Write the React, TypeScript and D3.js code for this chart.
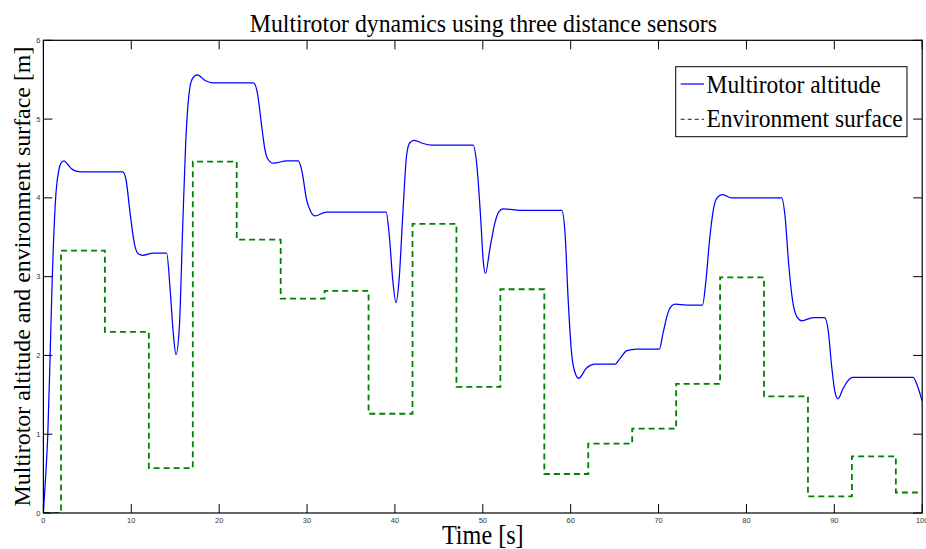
import React from "react";
import * as d3 from "d3";

const altTime = [0,0.25,0.5,0.75,1.0,1.13,1.43,1.75,2.0,2.34,2.8,3.2,3.7,4.36,9.02,9.4,9.86,10.43,10.8,11.3,12.5,14.03,14.4,14.78,15.09,15.47,15.85,16.19,16.68,17.0,17.52,18.4,19.3,23.9,24.35,24.85,25.2,25.5,26.17,27.7,29.0,29.4,29.96,30.4,30.9,32.2,39.0,39.37,39.75,40.13,40.5,40.9,41.35,41.7,42.2,43.2,44.2,48.9,49.3,49.77,50.05,50.3,50.8,51.37,51.8,52.3,53.5,54.6,58.98,59.36,59.7,60.1,60.5,60.9,61.8,62.8,65.05,65.6,66.4,67.5,70.1,70.5,71.1,71.5,71.9,73.2,75.0,75.4,75.8,76.24,76.6,77.3,78.3,79.3,84.0,84.4,84.8,85.3,85.8,86.3,87.6,88.9,89.3,89.7,90.05,90.4,91.0,91.5,92.1,93.7,98.96,99.5,100];
const altValue = [0,0.45,1.0,1.94,2.95,3.38,4.06,4.35,4.44,4.47,4.42,4.37,4.34,4.33,4.33,4.23,3.81,3.38,3.29,3.27,3.30,3.30,2.87,2.28,2.01,2.36,3.63,4.69,5.41,5.52,5.56,5.49,5.46,5.46,5.33,4.90,4.62,4.50,4.44,4.47,4.47,4.35,3.97,3.83,3.77,3.82,3.82,3.51,2.96,2.67,3.0,3.80,4.56,4.70,4.73,4.69,4.67,4.67,4.44,3.72,3.20,3.04,3.35,3.68,3.82,3.86,3.85,3.84,3.84,3.55,2.74,2.03,1.78,1.71,1.84,1.89,1.89,1.96,2.06,2.08,2.08,2.28,2.55,2.63,2.65,2.64,2.64,2.96,3.46,3.85,3.99,4.04,4.00,4.00,4.00,3.76,3.17,2.66,2.48,2.44,2.48,2.48,2.32,1.86,1.55,1.45,1.58,1.67,1.72,1.72,1.72,1.60,1.42];

const surfTime = [0,2,7,12,17,22,27,32,37,42,47,52,57,62,67,72,77,82,87,92,97,100];
const surfValue = [0,3.33,2.30,0.57,4.46,3.47,2.72,2.82,1.26,3.67,1.60,2.84,0.495,0.88,1.07,1.64,2.99,1.48,0.21,0.72,0.26,0.26];

const xTicks = [0,10,20,30,40,50,60,70,80,90,100];
const yTicks = [0,1,2,3,4,5,6];

const title = "Multirotor dynamics using three distance sensors";
const xLabel = "Time [s]";
const yLabel = "Multirotor altitude and environment surface [m]";
const legendLabels = ["Multirotor altitude", "Environment surface"];

export default function App() {
  const W = 926, H = 549;
  const left = 43.4, right = 922.2, top = 40.3, bottom = 513;
  const x = d3.scaleLinear().domain([0, 100]).range([left, right]);
  const y = d3.scaleLinear().domain([0, 6]).range([bottom, top]);

  const altPts: [number, number][] = altTime.map((t, i) => [t, altValue[i]]);
  const surfPts: [number, number][] = surfTime.map((t, i) => [t, surfValue[i]]);

  const altLine = d3.line<[number, number]>().x(d => x(d[0])).y(d => y(d[1])).curve(d3.curveMonotoneX);
  const surfLine = d3.line<[number, number]>().x(d => x(d[0])).y(d => y(d[1])).curve(d3.curveStepAfter);

  const serif = "'Liberation Serif', 'Times New Roman', serif";
  const sans = "'Liberation Sans', Arial, sans-serif";
  const tickLen = 9;
  const cx = (left + right) / 2;

  return (
    <svg width={W} height={H} style={{ position: "absolute", left: 0, top: 0, background: "#fff" }}>
      <rect x={0} y={0} width={W} height={H} fill="#fff" />
      <defs>
        <clipPath id="plotclip">
          <rect x={left} y={top} width={right - left} height={bottom - top} />
        </clipPath>
      </defs>
      <g clipPath="url(#plotclip)">
        <path d={surfLine(surfPts) || ""} fill="none" stroke="#008000" strokeWidth={1.8} strokeDasharray="6,4" />
        <path d={altLine(altPts) || ""} fill="none" stroke="#0000ff" strokeWidth={1.25} />
      </g>
      {xTicks.map(t => (
        <g key={"xt" + t}>
          <line x1={x(t)} x2={x(t)} y1={bottom} y2={bottom - tickLen} stroke="#000" strokeWidth={1} />
          <line x1={x(t)} x2={x(t)} y1={top} y2={top + tickLen} stroke="#000" strokeWidth={1} />
          <text x={x(t)} y={bottom + 9.5} textAnchor="middle" fontFamily={sans} fontSize={7.5} fill="#333">{t}</text>
        </g>
      ))}
      {yTicks.map(t => (
        <g key={"yt" + t}>
          <line x1={left} x2={left + tickLen} y1={y(t)} y2={y(t)} stroke="#000" strokeWidth={1} />
          <line x1={right} x2={right - tickLen} y1={y(t)} y2={y(t)} stroke="#000" strokeWidth={1} />
          <text x={left - 3} y={y(t) + 2.6} textAnchor="end" fontFamily={sans} fontSize={7.5} fill="#333">{t}</text>
        </g>
      ))}
      <rect x={left} y={top} width={right - left} height={bottom - top} fill="none" stroke="#000" strokeWidth={1.2} />
      <text transform={`translate(${cx + 0.6},31.7) scale(1,1.06)`} textAnchor="middle" fontFamily={serif} fontSize={23.8} fill="#000">{title}</text>
      <text transform={`translate(${cx},543.8) scale(1,1.1)`} textAnchor="middle" fontFamily={serif} fontSize={24.2} fill="#000">{xLabel}</text>
      <text transform={`translate(29.5,276.5) rotate(-90)`} textAnchor="middle" fontFamily={serif} fontSize={23.9} fill="#000">{yLabel}</text>
      <rect x={675.7} y={66.7} width={231.3} height={70} fill="#fff" stroke="#000" strokeWidth={1} />
      <line x1={680.7} x2={704} y1={84} y2={84} stroke="#0000ff" strokeWidth={1.2} />
      <line x1={680.7} x2={704} y1={119.3} y2={119.3} stroke="#008000" strokeWidth={1.2} strokeDasharray="4,3" />
      <text transform="translate(706.5,93.3) scale(1,1.08)" fontFamily={serif} fontSize={23.5} fill="#000">{legendLabels[0]}</text>
      <text transform="translate(706.5,126.5) scale(1,1.08)" fontFamily={serif} fontSize={23.5} fill="#000">{legendLabels[1]}</text>
    </svg>
  );
}
